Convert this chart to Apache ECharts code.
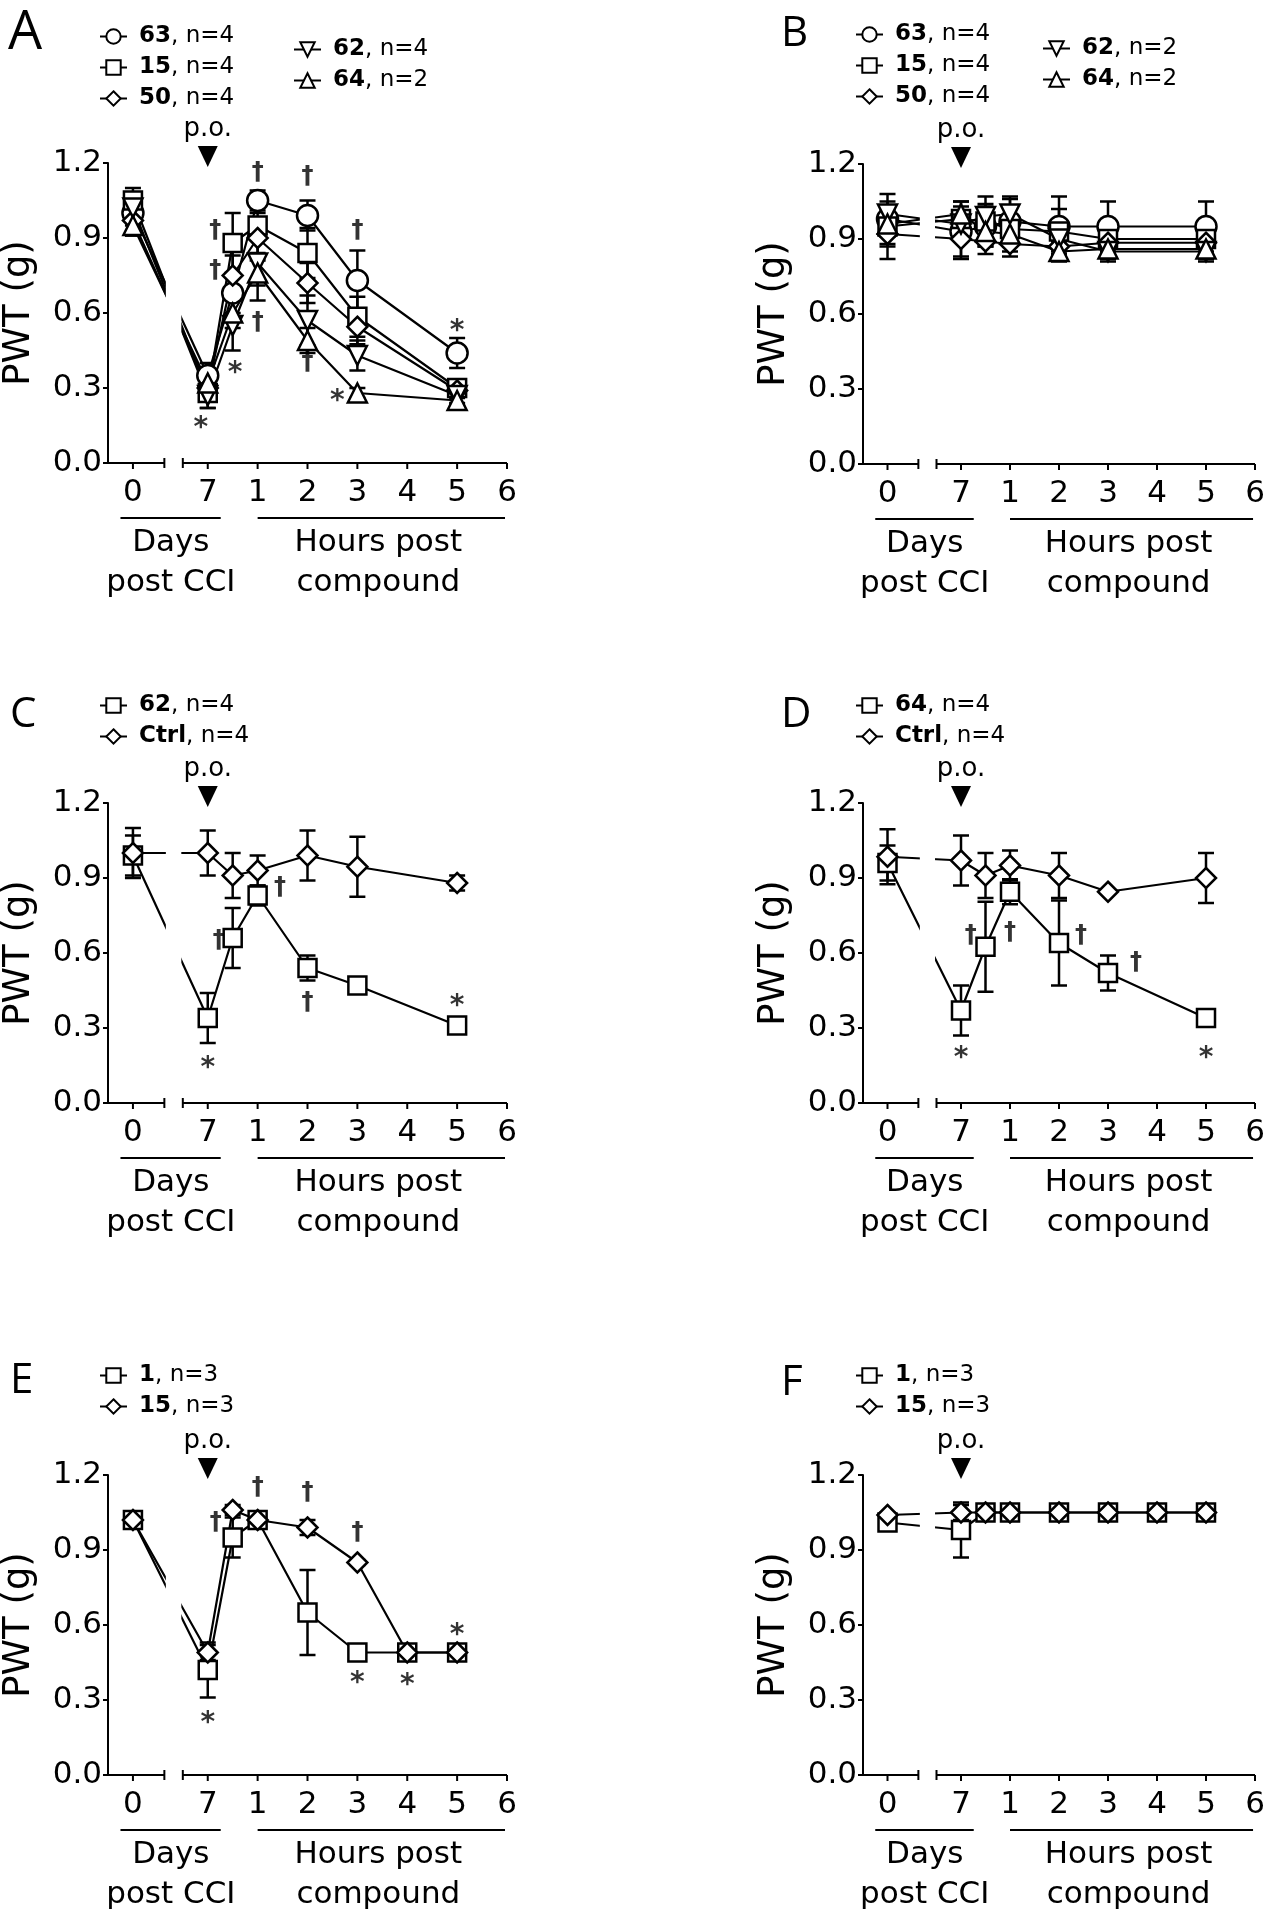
<!DOCTYPE html>
<html><head><meta charset="utf-8">
<script src="https://cdn.jsdelivr.net/npm/echarts@6/dist/echarts.min.js"></script>
<style>html,body{margin:0;padding:0;background:#fff}#c{width:1275px;height:1920px}</style>
</head><body><div id="c"></div>
<script>
// ================= DATA =================
// Broken x axis: day 0 post CCI sits at -1.5, day 7 (p.o. dosing) at 0, then hours post compound.
const xTimesABCD = [-1.5, 0, 0.5, 1, 2, 3, 5];
const xTimesEF   = [-1.5, 0, 0.5, 1, 2, 3, 4, 5];
const xTickPositions = [-1.5, 0, 1, 2, 3, 4, 5, 6];
const xTickLabels    = ['0', '7', '1', '2', '3', '4', '5', '6'];

// Panel A
const A_63 = [1.00, 0.35, 0.68, 1.05, 0.99, 0.73, 0.44];  const A_63_err = [0.05, 0.05, 0.08, 0.04, 0.06, 0.12, 0.06];
const A_15 = [1.05, 0.28, 0.88, 0.95, 0.84, 0.585, 0.30]; const A_15_err = [0.05, 0.06, 0.12, 0.05, 0.10, 0.08, 0.03];
const A_50 = [0.97, 0.30, 0.75, 0.90, 0.72, 0.545, 0.29]; const A_50_err = [0.06, 0.05, 0.08, 0.06, 0.08, 0.07, 0.03];
const A_62 = [1.02, 0.27, 0.55, 0.80, 0.57, 0.43, 0.27];  const A_62_err = [0.05, 0.05, 0.10, 0.15, 0.10, 0.06, 0.03];
const A_64 = [0.95, 0.32, 0.60, 0.76, 0.49, 0.28, 0.25];  const A_64_err = [0.04, 0.04, 0.06, 0.05, 0.05, 0.02, 0.02];
const A_daggers = [[1, 1.16], [2, 1.145], [3, 0.93], [1, 0.56], [2, 0.40], [0.15, 0.93], [0.15, 0.77]];
const A_stars   = [[-0.14, 0.16], [5, 0.55], [2.6, 0.27], [0.55, 0.38]];

// Panel B
const B_63 = [0.98, 0.93, 0.95, 0.97, 0.95, 0.95, 0.95];  const B_63_err = [0.10, 0.10, 0.08, 0.10, 0.12, 0.10, 0.10];
const B_15 = [0.95, 0.98, 0.97, 0.94, 0.93, 0.90, 0.90];  const B_15_err = [0.08, 0.07, 0.10, 0.09, 0.09, 0.08, 0.08];
const B_50 = [0.92, 0.90, 0.89, 0.88, 0.87, 0.885, 0.885]; const B_50_err = [0.10, 0.08, 0.05, 0.05, 0.04, 0.05, 0.05];
const B_62 = [1.00, 0.96, 0.99, 1.00, 0.90, 0.85, 0.85];  const B_62_err = [0.05, 0.05, 0.05, 0.06, 0.05, 0.04, 0.04];
const B_64 = [0.96, 1.00, 0.93, 0.92, 0.85, 0.86, 0.86];  const B_64_err = [0.05, 0.05, 0.05, 0.05, 0.04, 0.03, 0.03];

// Panel C
const C_62   = [0.99, 0.34, 0.66, 0.83, 0.54, 0.47, 0.31];  const C_62_err   = [0.08, 0.10, 0.12, 0.04, 0.05, 0.02, 0.02];
const C_ctrl = [1.00, 1.00, 0.91, 0.93, 0.99, 0.945, 0.88]; const C_ctrl_err = [0.10, 0.09, 0.09, 0.06, 0.10, 0.12, 0.03];
const C_daggers = [[0.22, 0.65], [1.45, 0.86], [2, 0.40]];
const C_stars   = [[0, 0.16], [5, 0.41]];

// Panel D
const D_64   = [0.96, 0.37, 0.625, 0.845, 0.64, 0.52, 0.34]; const D_64_err   = [0.07, 0.10, 0.18, 0.05, 0.17, 0.07, 0.03];
const D_ctrl = [0.985, 0.97, 0.91, 0.95, 0.91, 0.845, 0.90]; const D_ctrl_err = [0.11, 0.10, 0.09, 0.06, 0.09, 0.00, 0.10];
const D_daggers = [[0.2, 0.67], [1, 0.68], [2.45, 0.67], [3.57, 0.56]];
const D_stars   = [[0, 0.20], [5, 0.20]];

// Panel E
const E_1  = [1.02, 0.42, 0.95, 1.02, 0.65, 0.49, 0.49, 0.49]; const E_1_err  = [0.02, 0.11, 0.08, 0.02, 0.17, 0.01, 0.01, 0.01];
const E_15 = [1.02, 0.49, 1.06, 1.02, 0.99, 0.85, 0.49, 0.49]; const E_15_err = [0.01, 0.03, 0.02, 0.02, 0.03, 0.01, 0.03, 0.01];
const E_daggers = [[0.16, 1.01], [1, 1.15], [2, 1.13], [3, 0.97]];
const E_stars   = [[0, 0.23], [3, 0.39], [4, 0.38], [5, 0.58]];

// Panel F
const F_1  = [1.01, 0.98, 1.05, 1.05, 1.05, 1.05, 1.05, 1.05]; const F_1_err  = [0.01, 0.11, 0, 0, 0, 0, 0, 0];
const F_15 = [1.04, 1.05, 1.05, 1.05, 1.05, 1.05, 1.05, 1.05]; const F_15_err = [0.01, 0.03, 0, 0, 0, 0, 0, 0];

// ================= STYLE / LAYOUT =================
const FONT = '"DejaVu Sans", "Liberation Sans", Arial, sans-serif';
const SYM = {
  circle: ['circle', 21], square: ['rect', 18], diamond: ['diamond', 20],
  up: ['triangle', 19], down: ['path://M0,0L10,0L5,9Z', 19]
};

const panels = [
  { id: 'A', left: 107, top: 163, width: 400, x: xTimesABCD,
    letter: { left: 3, top: 2, size: 54 },
    series: [['63, n=4', 'circle', A_63, A_63_err], ['15, n=4', 'square', A_15, A_15_err], ['50, n=4', 'diamond', A_50, A_50_err],
             ['62, n=4', 'down', A_62, A_62_err], ['64, n=2', 'up', A_64, A_64_err]],
    legends: [{ left: 99, top: 25, n: [0, 1, 2] }, { left: 293, top: 38, n: [3, 4] }],
    daggers: A_daggers, stars: A_stars },
  { id: 'B', left: 863, top: 164, width: 392, x: xTimesABCD,
    letter: { left: 776, top: 8, size: 42 },
    series: [['63, n=4', 'circle', B_63, B_63_err], ['15, n=4', 'square', B_15, B_15_err], ['50, n=4', 'diamond', B_50, B_50_err],
             ['62, n=2', 'down', B_62, B_62_err], ['64, n=2', 'up', B_64, B_64_err]],
    legends: [{ left: 855, top: 23, n: [0, 1, 2] }, { left: 1042, top: 37, n: [3, 4] }],
    daggers: [], stars: [] },
  { id: 'C', left: 107, top: 803, width: 400, x: xTimesABCD,
    letter: { left: 5, top: 689, size: 42 },
    series: [['62, n=4', 'square', C_62, C_62_err], ['Ctrl, n=4', 'diamond', C_ctrl, C_ctrl_err]],
    legends: [{ left: 99, top: 694, n: [0, 1] }],
    daggers: C_daggers, stars: C_stars },
  { id: 'D', left: 863, top: 803, width: 392, x: xTimesABCD,
    letter: { left: 776, top: 689, size: 42 },
    series: [['64, n=4', 'square', D_64, D_64_err], ['Ctrl, n=4', 'diamond', D_ctrl, D_ctrl_err]],
    legends: [{ left: 855, top: 694, n: [0, 1] }],
    daggers: D_daggers, stars: D_stars },
  { id: 'E', left: 107, top: 1475, width: 400, x: xTimesEF,
    letter: { left: 5, top: 1355, size: 42 },
    series: [['1, n=3', 'square', E_1, E_1_err], ['15, n=3', 'diamond', E_15, E_15_err]],
    legends: [{ left: 99, top: 1364, n: [0, 1] }],
    daggers: E_daggers, stars: E_stars },
  { id: 'F', left: 863, top: 1475, width: 392, x: xTimesEF,
    letter: { left: 776, top: 1357, size: 42 },
    series: [['1, n=3', 'square', F_1, F_1_err], ['15, n=3', 'diamond', F_15, F_15_err]],
    legends: [{ left: 855, top: 1364, n: [0, 1] }],
    daggers: [], stars: [] }
];

// ================= BUILD =================
function decorRender(params, api) {
  const xs = v => api.coord([v, 0])[0];
  const y0 = api.coord([0, 0])[1];
  const yTop = api.coord([0, 1.2])[1];
  const st = { stroke: '#000', lineWidth: 2 };
  const L = (x1, y1, x2, y2) => ({ type: 'line', shape: { x1, y1, x2, y2 }, style: st });
  const T = (text, x, y, size, weight) => ({ type: 'text', style: { text, x, y, align: 'center', verticalAlign: 'middle',
    fontSize: size, fontFamily: FONT, fontWeight: weight || 'normal', fill: '#000' } });
  const ch = [];
  // axis break mask (interrupts the day 0 -> day 7 lines)
  ch.push({ type: 'rect', shape: { x: xs(-0.84), y: yTop - 10, width: xs(-0.53) - xs(-0.84), height: y0 - yTop + 8 }, style: { fill: '#fff' } });
  // broken x axis
  ch.push(L(xs(-2), y0, xs(-0.87), y0));
  ch.push(L(xs(-0.87), y0 - 5, xs(-0.87), y0 + 5));
  ch.push(L(xs(-0.5), y0, xs(6), y0));
  ch.push(L(xs(-0.5), y0 - 5, xs(-0.5), y0 + 5));
  xTickPositions.forEach(t => ch.push(L(xs(t), y0, xs(t), y0 + 6)));
  // group underlines and titles
  ch.push(L(xs(-1.75), y0 + 55, xs(0.26), y0 + 55));
  ch.push(L(xs(1.0), y0 + 55, xs(5.96), y0 + 55));
  ch.push(T('Days', xs(-0.74), y0 + 80, 31));
  ch.push(T('post CCI', xs(-0.74), y0 + 120, 31));
  ch.push(T('Hours post', xs(3.42), y0 + 80, 31));
  ch.push(T('compound', xs(3.42), y0 + 120, 31));
  // p.o. dosing arrow
  const xd = xs(0);
  ch.push(T('p.o.', xd, yTop - 34, 26));
  ch.push({ type: 'polygon', shape: { points: [[xd - 10, yTop - 17], [xd + 10, yTop - 17], [xd, yTop + 4]] }, style: { fill: '#000' } });
  return { type: 'group', children: ch };
}

function errRender(params, api) {
  const x = api.value(0), y = api.value(1), e = api.value(2);
  if (!e) return null;
  const p = api.coord([x, y + e]), q = api.coord([x, y - e]);
  const st = { stroke: '#000', lineWidth: 2.5 };
  const w = 8;
  return { type: 'group', children: [
    { type: 'line', shape: { x1: p[0], y1: p[1], x2: q[0], y2: q[1] }, style: st },
    { type: 'line', shape: { x1: p[0] - w, y1: p[1], x2: p[0] + w, y2: p[1] }, style: st },
    { type: 'line', shape: { x1: q[0] - w, y1: q[1], x2: q[0] + w, y2: q[1] }, style: st }
  ] };
}

const grid = [], xAxis = [], yAxis = [], series = [], legend = [], title = [];
panels.forEach((P, i) => {
  grid.push({ left: P.left, top: P.top, width: P.width, height: 300 });
  xAxis.push({ type: 'value', gridIndex: i, min: -2, max: 6, interval: 0.5,
    axisLine: { show: false }, axisTick: { show: false }, splitLine: { show: false },
    axisLabel: { fontSize: 31, fontFamily: FONT, color: '#000', margin: 14, showMinLabel: true, showMaxLabel: true,
      formatter: v => { const k = xTickPositions.findIndex(t => Math.abs(t - v) < 1e-6); return k >= 0 ? xTickLabels[k] : ''; } } });
  yAxis.push({ type: 'value', gridIndex: i, min: 0, max: 1.2, interval: 0.3,
    axisLine: { show: true, onZero: false, lineStyle: { color: '#000', width: 2 } },
    axisTick: { show: true, length: 5, lineStyle: { color: '#000', width: 2 } },
    splitLine: { show: false },
    axisLabel: { fontSize: 31, fontFamily: FONT, color: '#000', margin: 6, formatter: v => v.toFixed(1) },
    name: 'PWT (g)', nameLocation: 'middle', nameGap: 70, nameRotate: 90,
    nameTextStyle: { fontSize: 37, fontFamily: FONT, color: '#000' } });
  title.push({ text: P.id, left: P.letter.left, top: P.letter.top,
    textStyle: { fontSize: P.letter.size, fontWeight: 'normal', fontFamily: '"Open Sans", "Noto Sans", sans-serif', color: '#000' } });

  P.series.forEach(([name, sym, ys, es]) => {
    const sid = P.id + '|' + name;
    series.push({ type: 'custom', name: sid + '|err', xAxisIndex: i, yAxisIndex: i, z: 2, silent: true,
      renderItem: errRender, data: P.x.map((v, k) => [v, ys[k], es[k]]) });
    series.push({ type: 'line', name: sid, xAxisIndex: i, yAxisIndex: i, z: 3, silent: true,
      symbol: SYM[sym][0], symbolSize: SYM[sym][1], showSymbol: true,
      itemStyle: { color: '#fff', borderColor: '#000', borderWidth: 2.5 },
      lineStyle: { color: '#000', width: 2.2 },
      data: P.x.map((v, k) => [v, ys[k]]) });
  });
  series.push({ type: 'custom', name: P.id + '|decor', xAxisIndex: i, yAxisIndex: i, z: 4, silent: true,
    renderItem: decorRender, data: [[0, 0]] });
  const ann = (pts, ch, size, dy) => series.push({ type: 'scatter', name: P.id + '|' + ch, xAxisIndex: i, yAxisIndex: i, z: 5,
    silent: true, symbolSize: 2, itemStyle: { color: 'rgba(0,0,0,0)' }, data: pts,
    label: { show: true, position: 'inside', formatter: ch, fontSize: size, fontWeight: 'bold', fontFamily: FONT, color: '#000', offset: [0, dy] } });
  if (P.daggers.length) ann(P.daggers, '†', 24, 0);
  if (P.stars.length) ann(P.stars, '*', 28, 6);

  P.legends.forEach(lg => {
    legend.push({ left: lg.left, top: lg.top, orient: 'vertical', padding: 0, itemGap: 8,
      itemWidth: 27, itemHeight: 18, selectedMode: false,
      data: lg.n.map(k => P.id + '|' + P.series[k][0]),
      formatter: nm => { const s = nm.split('|')[1]; const c = s.indexOf(','); return '{b|' + s.slice(0, c) + '}{r|' + s.slice(c) + '}'; },
      textStyle: { rich: {
        b: { fontSize: 23, fontWeight: 'bold', fontFamily: FONT, color: '#000', padding: [0, 0, 0, 7] },
        r: { fontSize: 23, fontWeight: 'normal', fontFamily: FONT, color: '#000' } } } });
  });
});

const chart = echarts.init(document.getElementById('c'), null, { renderer: 'canvas', width: 1275, height: 1920 });
chart.setOption({ backgroundColor: '#fff', animation: false, title, grid, xAxis, yAxis, legend, series });
</script>
</body></html>
